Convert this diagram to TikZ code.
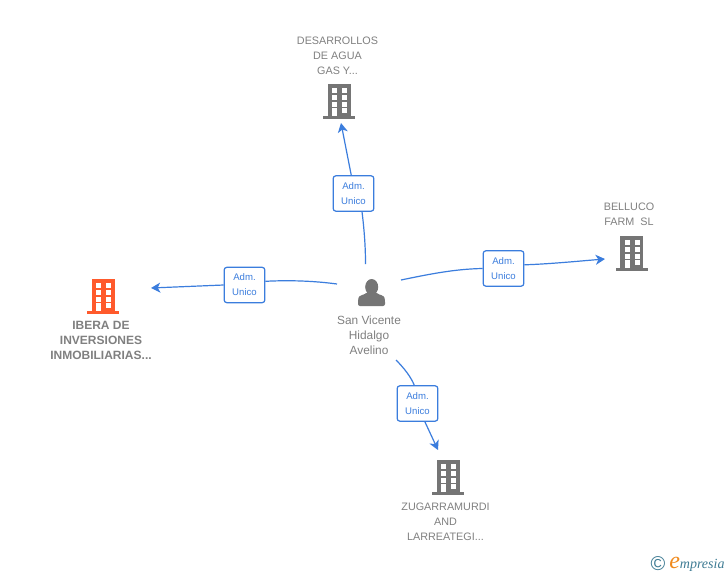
\documentclass[tikz,border=0pt]{standalone}
\usepackage{fontspec}
\setmainfont{Liberation Sans}
\newfontfamily\logofont{Liberation Serif}
\usetikzlibrary{arrows.meta,positioning}
\definecolor{linkblue}{HTML}{3B7DDD}
\definecolor{icongray}{HTML}{757575}
\definecolor{textgray}{HTML}{808080}
\definecolor{iberared}{HTML}{FF5A2C}
\definecolor{logoteal}{HTML}{3F7C94}
\definecolor{logoorange}{HTML}{F08A1D}

\begin{document}
\begin{tikzpicture}[x=0.75pt,y=-0.75pt]
\tikzstyle{connect}=[-{Stealth[length=7pt,width=7.5pt,inset=2pt]}, draw=linkblue, line width=0.9pt]
\tikzstyle{plain}=[draw=linkblue, line width=0.9pt]
\tikzstyle{adm}=[rectangle, rounded corners=2pt, draw=linkblue, line width=0.9pt, fill=white, minimum width=30.5pt, minimum height=26.5pt, inner sep=0pt, align=center, text=linkblue, font=\fontsize{7.2}{11.25}\selectfont]
\tikzstyle{company}=[align=center, text=textgray, font=\fontsize{8.1}{11.25}\selectfont]
\tikzset{
  bldg/.pic={
    \fill[pic actions] (-11.5,-17) rectangle (11.5,15);
    \fill[pic actions] (-16,15) rectangle (16,17.5);
    \foreach \wy in {-12.7,-5.9,1.2} {
      \fill[white] (-7,\wy) rectangle (-2,\wy+4.4);
      \fill[white] (3,\wy) rectangle (8,\wy+4.4);
    }
    \fill[white] (-7,7.3) rectangle (-2,15);
    \fill[white] (3,7.3) rectangle (8,12);
  }
}
\useasboundingbox (0,0) rectangle (728,575);
\fill[white] (0,0) rectangle (728,575);

% icons
\pic[icongray] at (339,101) {bldg};
\pic[icongray] at (631.5,253) {bldg};
\pic[icongray] at (448,477) {bldg};
\pic[iberared] at (103,296) {bldg};
\fill[icongray] (371.7,287) ellipse (6.5 and 8);
\fill[icongray, rounded corners=1.5pt] (358,306) -- (358,300) .. controls (359,295) and (364,295) .. (367,292) -- (376,292) .. controls (379,295) and (384,295) .. (385,300) -- (385,306) -- cycle;

% labels
\node[company] (desarrollos) at (337.5,55.5) {DESARROLLOS\\DE AGUA\\GAS Y...};
\node[company] (belluco) at (629,214) {BELLUCO\\FARM\ \ SL};
\node[company] (zugarramurdi) at (445.5,521.5) {ZUGARRAMURDI\\AND\\LARREATEGI...};
\node[company, font=\bfseries\fontsize{9}{11.25}\selectfont] (ibera) at (101,340) {IBERA DE\\INVERSIONES\\INMOBILIARIAS...};
\node[company, font=\fontsize{8.9}{11.25}\selectfont] (vicente) at (369,335) {San Vicente\\Hidalgo\\Avelino};

% link boxes
\node[adm] (admup) at (353.5,193.5) {Adm.\\Unico};
\node[adm] (admright) at (503.5,268.5) {Adm.\\Unico};
\node[adm] (admleft) at (244.5,285) {Adm.\\Unico};
\node[adm] (admdown) at (417.5,403.5) {Adm.\\Unico};

% free ends
\coordinate (fromup) at (365.5,264);
\coordinate (fromright) at (401,280);
\coordinate (fromleft) at (337,284);
\coordinate (fromdown) at (396,360);
\coordinate (toup) at (341,123);
\coordinate (toright) at (605,259);
\coordinate (toleft) at (151,288);
\coordinate (todown) at (438,450);

\draw[plain] (fromup) .. controls (365.5,245) and (364,228) .. (admup.-65);
\draw[connect] (admup.97) -- (toup);
\draw[plain] (fromright) .. controls (430,274) and (455,269) .. (admright.west);
\draw[connect] (admright.10) .. controls (550,264) and (580,261) .. (toright);
\draw[plain] (fromleft) .. controls (315,281) and (290,280) .. (admleft.10);
\draw[connect] (admleft.west) -- (toleft);
\draw[plain] (fromdown) .. controls (404,368) and (411,377) .. (admdown.100);
\draw[connect] (admdown.-68) -- (todown);

% logo
\node[text=logoteal, font=\fontsize{15}{15}\selectfont, inner sep=0pt] (copyr) at (658,564) {\textcopyright};
\node[inner sep=0pt, anchor=west, font=\logofont\itshape\fontsize{10.5}{10}\selectfont, text=logoteal] (logo) at (669,564) {{\color{logoorange}\fontsize{18}{18}\selectfont e}mpresia};
\end{tikzpicture}
\end{document}
